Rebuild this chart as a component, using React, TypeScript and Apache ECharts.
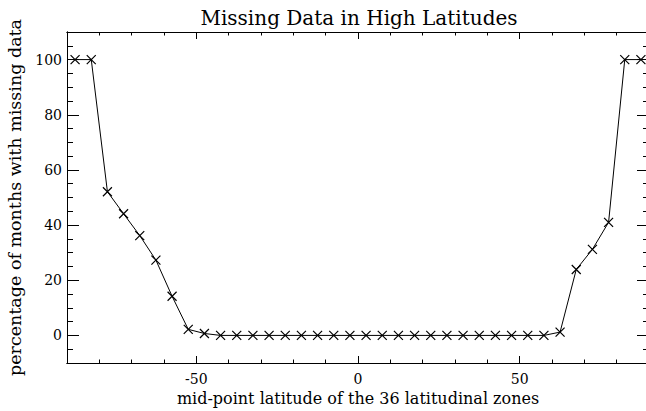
import React, { useEffect, useRef } from "react";
import * as echarts from "echarts";

const latitudes = [
  -87.5, -82.5, -77.5, -72.5, -67.5, -62.5, -57.5, -52.5, -47.5, -42.5,
  -37.5, -32.5, -27.5, -22.5, -17.5, -12.5, -7.5, -2.5, 2.5, 7.5,
  12.5, 17.5, 22.5, 27.5, 32.5, 37.5, 42.5, 47.5, 52.5, 57.5,
  62.5, 67.5, 72.5, 77.5, 82.5, 87.5,
];
const missingPct = [
  100, 100, 52.1, 44.1, 36.2, 27.3, 14.2, 2.2, 0.7, 0,
  0, 0, 0, 0, 0, 0, 0, 0, 0, 0,
  0, 0, 0, 0, 0, 0, 0, 0, 0, 0,
  1.2, 23.9, 31.2, 41.0, 100, 100,
];
const xMajorTicks = [-50, 0, 50];
const xMinorTicks = [-80, -70, -60, -40, -30, -20, -10, 10, 20, 30, 40, 60, 70, 80];
const yMajorTicks = [0, 20, 40, 60, 80, 100];
const yMinorTicks = [-5, 5, 10, 15, 25, 30, 35, 45, 50, 55, 65, 70, 75, 85, 90, 95, 105];

const FONT = "DejaVu Serif";
const INK = "#000";

function xAxisDef(gridIndex: number, position: string, ticks: number[], len: number, labels: boolean) {
  return {
    type: "value",
    gridIndex,
    position,
    min: -90,
    max: 90,
    axisLine: { show: true, onZero: false, lineStyle: { color: INK, width: 1 } },
    axisTick: { show: true, inside: true, length: len, customValues: ticks, lineStyle: { color: INK, width: 1 } },
    axisLabel: labels
      ? { show: true, customValues: ticks, color: INK, fontFamily: FONT, fontSize: 14, margin: 9 }
      : { show: false },
    splitLine: { show: false },
    ...(labels
      ? {
          name: "mid-point latitude of the 36 latitudinal zones",
          nameLocation: "middle",
          nameGap: 24,
          nameTextStyle: { color: INK, fontFamily: FONT, fontSize: 16 },
        }
      : {}),
  };
}

function yAxisDef(gridIndex: number, position: string, ticks: number[], len: number, labels: boolean) {
  return {
    type: "value",
    gridIndex,
    position,
    min: -10,
    max: 110,
    axisLine: { show: true, onZero: false, lineStyle: { color: INK, width: 1 } },
    axisTick: { show: true, inside: true, length: len, customValues: ticks, lineStyle: { color: INK, width: 1 } },
    axisLabel: labels
      ? { show: true, customValues: ticks, color: INK, fontFamily: FONT, fontSize: 14, margin: 5 }
      : { show: false },
    splitLine: { show: false },
    ...(labels
      ? {
          name: "percentage of months with missing data",
          nameLocation: "middle",
          nameGap: 39,
          nameTextStyle: { color: INK, fontFamily: FONT, fontSize: 17.5 },
        }
      : {}),
  };
}

export default function App() {
  const ref = useRef<HTMLDivElement>(null);
  useEffect(() => {
    if (!ref.current) return;
    const chart = echarts.init(ref.current, undefined, { renderer: "svg" });
    const gridBox = {
      left: 67,
      width: 582,
      top: 32,
      height: 331,
      containLabel: false,
      outerBoundsMode: "none",
    };
    chart.setOption({
      animation: false,
      backgroundColor: "#fff",
      textStyle: { fontFamily: FONT, color: INK },
      title: {
        text: "Missing Data in High Latitudes",
        left: 359,
        top: 8,
        padding: 0,
        textAlign: "center",
        textStyle: { color: INK, fontFamily: FONT, fontSize: 20, fontWeight: "normal" },
      },
      grid: [{ ...gridBox }, { ...gridBox }],
      xAxis: [
        xAxisDef(0, "bottom", xMajorTicks, 7, true),
        xAxisDef(0, "top", xMajorTicks, 7, false),
        xAxisDef(1, "bottom", xMinorTicks, 3.5, false),
        xAxisDef(1, "top", xMinorTicks, 3.5, false),
      ],
      yAxis: [
        yAxisDef(0, "left", yMajorTicks, 12, true),
        yAxisDef(0, "right", yMajorTicks, 12, false),
        yAxisDef(1, "left", yMinorTicks, 6, false),
        yAxisDef(1, "right", yMinorTicks, 6, false),
      ],
      series: [
        {
          type: "line",
          xAxisIndex: 0,
          yAxisIndex: 0,
          data: latitudes.map((x, i) => [x, missingPct[i]]),
          symbol: "path://M0,0L10,10M10,0L0,10",
          symbolSize: 9,
          showSymbol: true,
          lineStyle: { color: INK, width: 1 },
          itemStyle: { color: INK, borderColor: INK, borderWidth: 1.2 },
          emphasis: { disabled: true },
        },
      ],
    });
    return () => chart.dispose();
  }, []);
  return (
    <div
      ref={ref}
      style={{ position: "fixed", left: 0, top: 0, width: 646, height: 411, background: "#fff" }}
    />
  );
}
